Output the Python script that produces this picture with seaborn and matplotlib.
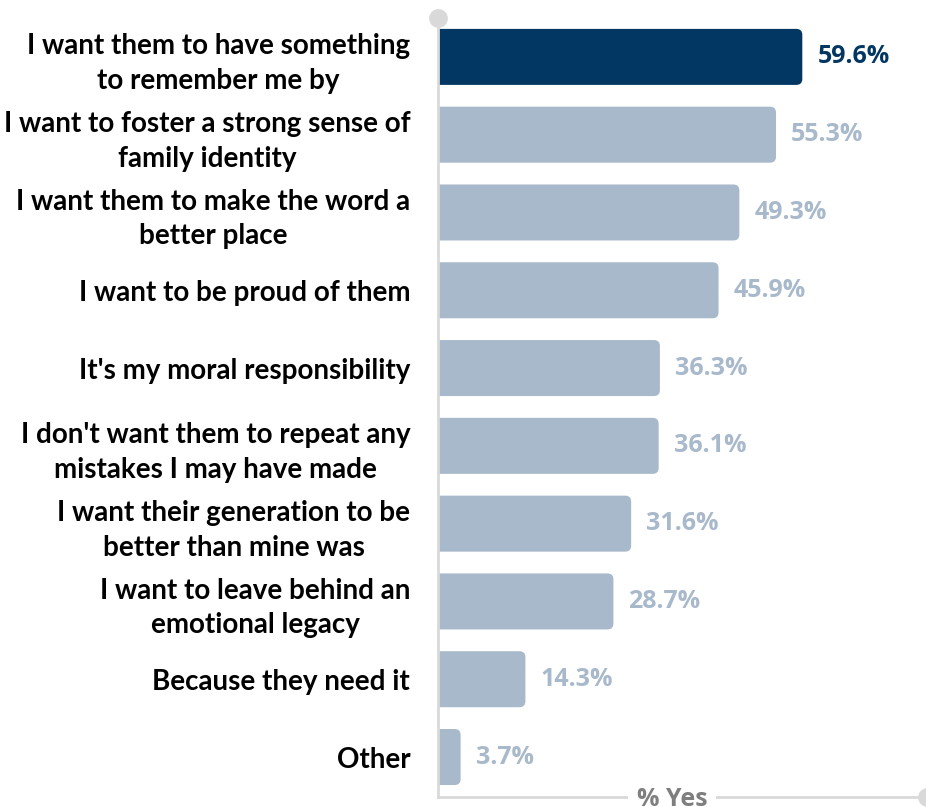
import matplotlib
matplotlib.use("Agg")
import matplotlib.pyplot as plt
import seaborn as sns
import pandas as pd
from matplotlib.patches import FancyBboxPatch

# Survey answers (top to bottom) and share of respondents answering "yes"
reasons = [
    "I want them to have something\nto remember me by",
    "I want to foster a strong sense of\nfamily identity",
    "I want them to make the word a\nbetter place",
    "I want to be proud of them",
    "It's my moral responsibility",
    "I don't want them to repeat any\nmistakes I may have made",
    "I want their generation to be\nbetter than mine was",
    "I want to leave behind an\nemotional legacy",
    "Because they need it",
    "Other",
]
pct_yes = [59.6, 55.3, 49.3, 45.9, 36.3, 36.1, 31.6, 28.7, 14.3, 3.7]
highlight = reasons[0]
axis_title = "% Yes"

NAVY = "#033763"
STEEL = "#a8b9cb"
AXIS_GREY = "#d9d9d9"
TITLE_GREY = "#7f7f7f"

sns.set_theme(style="white")
plt.rcParams["font.family"] = ["Lato", "DejaVu Sans"]

df = pd.DataFrame({"reason": reasons, "pct": pct_yes})
colors = [NAVY if r == highlight else STEEL for r in reasons]

W, H = 926, 807
fig = plt.figure(figsize=(W / 100, H / 100), dpi=100)
ax_left, ax_right, ax_top, ax_bottom = 438, 927, 18, 797
ax = fig.add_axes([ax_left / W, (H - ax_bottom) / H,
                   (ax_right - ax_left) / W, (ax_bottom - ax_top) / H])

sns.barplot(data=df, x="pct", y="reason", hue="reason", palette=colors,
            legend=False, width=0.72, saturation=1, ax=ax)

x_max = 80
y_top, y_bot = -0.5, 9.514
ax.set_xlim(0, x_max)
ax.set_ylim(y_bot, y_top)

# Rounded bar ends: rebuild each bar as a rounded box
px_per_x = (ax_right - ax_left) / x_max
px_per_y = (ax_bottom - ax_top) / (y_bot - y_top)
radius_px = 6
r = radius_px / px_per_x
aspect = px_per_x / px_per_y
for bar in list(ax.patches):
    x0, y0 = bar.get_x(), bar.get_y()
    w, h = bar.get_width(), bar.get_height()
    fc = bar.get_facecolor()
    bar.remove()
    box = FancyBboxPatch((x0 - 2 * r, y0), w + 2 * r, h,
                         boxstyle=f"round,pad=0,rounding_size={r}",
                         mutation_aspect=aspect, fc=fc, ec="none", zorder=2)
    ax.add_patch(box)

# Value labels
gap = 15 / px_per_x
for i, (v, c) in enumerate(zip(pct_yes, colors)):
    ax.text(v + gap, i, f"{v}%", ha="left", va="center", color=c,
            fontsize=18, fontweight="bold",
            family=["Open Sans", "DejaVu Sans"])

# Category labels
ax.set_yticks(range(len(reasons)))
ax.set_yticklabels(reasons, fontsize=20, fontweight="bold", color="black",
                   multialignment="center", linespacing=1.4)
ax.tick_params(axis="y", length=0, pad=20)
ax.set_xticks([])
ax.set_xlabel("")
ax.set_ylabel("")

# Axis lines with round end caps
for side in ("top", "right"):
    ax.spines[side].set_visible(False)
for side in ("left", "bottom"):
    ax.spines[side].set_color(AXIS_GREY)
    ax.spines[side].set_linewidth(2)
    ax.spines[side].set_zorder(3)
ax.plot([0], [y_top], "o", ms=12.5, color=AXIS_GREY, clip_on=False, zorder=4)
ax.plot([x_max], [y_bot], "o", ms=12.5, color=AXIS_GREY, clip_on=False, zorder=4)

ax.text((672 - ax_left) / px_per_x, y_bot, axis_title, ha="center",
        va="center_baseline", fontsize=18, fontweight="bold", color=TITLE_GREY,
        family=["Open Sans", "DejaVu Sans"], clip_on=False, zorder=5,
        bbox=dict(fc="white", ec="none", pad=6))

fig.savefig("out.png", dpi=100, facecolor="white")
